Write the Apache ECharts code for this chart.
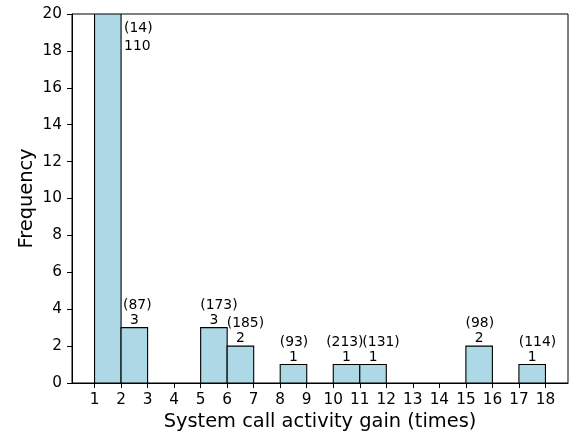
<!DOCTYPE html>
<html>
<head>
<meta charset="utf-8">
<script src="https://cdn.jsdelivr.net/npm/echarts@6/dist/echarts.min.js"></script>
<style>
html,body{margin:0;padding:0;background:#fff;}
#chart{width:573px;height:436px;}
</style>
</head>
<body>
<div id="chart"></div>
<script>
// ---- data ----
const binStarts = [1, 2, 5, 6, 8, 10, 11, 15, 17];
const counts = [110, 3, 3, 2, 1, 1, 1, 2, 1];
const parenValues = [14, 87, 173, 185, 93, 213, 131, 98, 114];
const xTickValues = [1,2,3,4,5,6,7,8,9,10,11,12,13,14,15,16,17,18];
const yTickMax = 20;
const yTickStep = 2;
const binWidth = 1;

// ---- layout (pixel nudges for the bracketed labels, as in the reference) ----
const parenDx = [0, 3, 5, 5, 0.5, -1.7, 8, 0.7, 5.3];

const FONT = '"DejaVu Sans", sans-serif';
const chart = echarts.init(document.getElementById('chart'), null, {renderer: 'canvas'});

const barData = binStarts.map((s, i) => [s, counts[i], parenValues[i], i]);

chart.setOption({
  animation: false,
  backgroundColor: '#fff',
  grid: {left: 72, right: 5, top: 14, bottom: 53, show: true, borderColor: '#000', borderWidth: 1, backgroundColor: 'transparent'},
  xAxis: {
    type: 'value', min: 0.15, max: 18.85,
    name: 'System call activity gain (times)', nameLocation: 'middle', nameGap: 29,
    nameMoveOverlap: false,
    nameTextStyle: {fontSize: 19.4, color: '#000', fontFamily: FONT},
    axisLine: {show: true, lineStyle: {color: '#000', width: 1}},
    axisTick: {show: true, length: 5, lineStyle: {color: '#000'}, customValues: xTickValues},
    axisLabel: {fontSize: 15.3, color: '#000', fontFamily: FONT, margin: 9.5, customValues: xTickValues},
    splitLine: {show: false}
  },
  yAxis: {
    type: 'value', min: 0, max: yTickMax, interval: yTickStep,
    name: 'Frequency', nameLocation: 'middle', nameGap: 36,
    nameMoveOverlap: false,
    nameTextStyle: {fontSize: 19.4, color: '#000', fontFamily: FONT},
    axisLine: {show: true, lineStyle: {color: '#000', width: 1}},
    axisTick: {show: true, length: 5, lineStyle: {color: '#000'}},
    axisLabel: {fontSize: 15.3, color: '#000', fontFamily: FONT, margin: 10},
    splitLine: {show: false}
  },
  series: [{
    type: 'custom',
    clip: true,
    data: barData,
    renderItem: function (params, api) {
      const s = api.value(0), c = api.value(1);
      const top = api.coord([s, Math.min(c, yTickMax)]);
      const br = api.coord([s + binWidth, 0]);
      return {
        type: 'rect',
        shape: {x: top[0], y: top[1], width: br[0] - top[0], height: br[1] - top[1]},
        style: {fill: '#ADD8E6', stroke: '#000', lineWidth: 1.1}
      };
    }
  }, {
    type: 'custom',
    data: barData,
    z: 5,
    renderItem: function (params, api) {
      const s = api.value(0), c = api.value(1), p = api.value(2), i = api.value(3);
      const ts = {fontSize: 13.9, fontFamily: FONT, fill: '#000'};
      if (c > yTickMax) {
        const pt = api.coord([s + binWidth, yTickMax]);
        return {type: 'group', children: [
          {type: 'text', x: pt[0] + 3, y: pt[1] + 14.5, style: Object.assign({text: '(' + p + ')', align: 'left', verticalAlign: 'middle'}, ts)},
          {type: 'text', x: pt[0] + 3, y: pt[1] + 32, style: Object.assign({text: String(c), align: 'left', verticalAlign: 'middle'}, ts)}
        ]};
      }
      const pt = api.coord([s + binWidth / 2, c]);
      return {type: 'group', children: [
        {type: 'text', x: pt[0] + parenDx[i], y: pt[1] - 22.5, style: Object.assign({text: '(' + p + ')', align: 'center', verticalAlign: 'middle'}, ts)},
        {type: 'text', x: pt[0], y: pt[1] - 7.5, style: Object.assign({text: String(c), align: 'center', verticalAlign: 'middle'}, ts)}
      ]};
    }
  }]
});
</script>
</body>
</html>
